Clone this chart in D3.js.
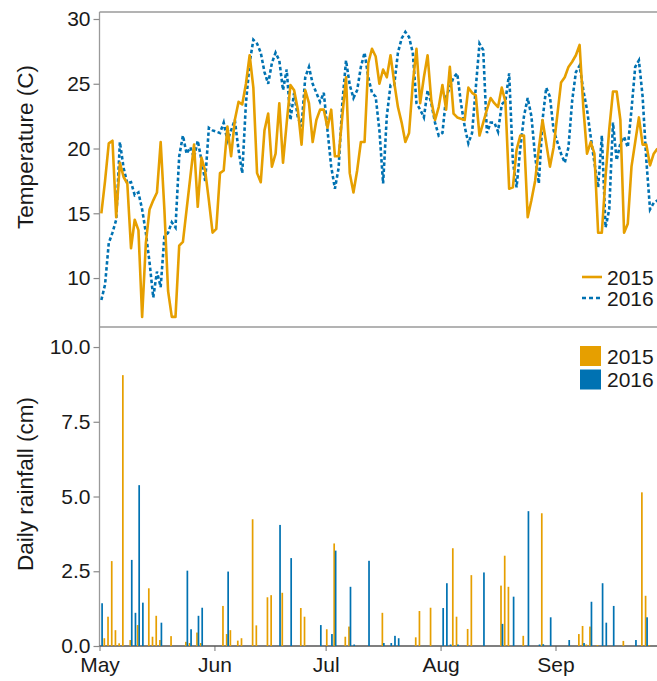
<!DOCTYPE html>
<html><head><meta charset="utf-8">
<script src="https://cdn.jsdelivr.net/npm/d3@7"></script>
<style>body{margin:0;background:#fff}svg{display:block}text{font-family:"Liberation Sans",Arial,Helvetica,sans-serif}</style>
</head><body><svg id="c" width="657" height="681"></svg>
<script>
// Daily mean temperature (C), one value per day starting May 1
const temp2015 = [15.0,17.5,20.4,20.6,14.7,18.9,17.8,17.3,12.3,14.5,13.7,7.0,12.7,15.3,16.0,16.6,20.5,15.3,9.0,7.0,
7.0,12.5,12.8,15.3,17.8,20.3,15.5,19.3,18.3,16.0,13.5,13.8,18.1,18.3,21.7,19.4,22.2,23.6,23.4,25.0,
27.2,24.7,18.1,17.4,21.4,22.7,18.6,19.6,23.5,18.9,22.0,24.9,24.5,23.0,20.3,24.5,23.5,20.5,22.2,23.0,
23.0,21.6,23.0,19.4,19.4,22.5,25.5,18.1,16.6,18.3,20.5,20.5,26.6,27.7,27.1,25.0,26.1,25.5,27.2,25.1,
23.2,22.0,20.5,21.2,25.0,27.7,23.5,25.5,27.2,23.7,22.2,23.2,24.9,23.0,26.3,22.7,22.4,22.3,22.2,24.7,
24.3,24.1,21.0,22.0,23.0,23.9,23.5,23.2,24.7,23.6,16.9,17.0,19.9,21.0,21.0,14.7,16.0,17.5,20.0,22.2,
20.4,18.6,20.1,22.6,25.1,25.5,26.3,26.7,27.2,28.0,23.2,19.6,20.5,19.6,13.5,13.5,17.8,21.5,24.4,24.4,
22.2,13.5,14.2,18.6,20.5,22.4,20.3,20.3,18.7,19.6,20.0];
const temp2016 = [8.3,9.5,12.7,13.5,14.5,20.5,18.5,17.3,17.4,16.4,16.6,15.3,13.5,11.2,8.5,10.5,9.3,13.2,13.5,14.3,
13.9,19.4,21.0,19.6,20.1,19.3,20.6,19.1,17.5,21.6,21.4,21.3,21.2,22.0,20.6,21.4,22.2,19.9,18.1,23.5,
26.6,28.4,28.1,27.4,25.9,25.0,26.6,27.4,26.8,24.5,26.1,22.2,24.3,22.4,21.7,25.5,26.3,25.0,24.3,23.6,
24.3,21.4,18.6,16.9,18.5,23.5,26.8,24.9,23.9,24.5,26.3,27.4,25.5,24.3,24.0,21.4,17.3,22.5,24.9,24.9,
27.4,28.5,29.0,28.6,27.4,23.5,23.0,22.4,24.5,23.5,22.0,21.0,21.2,24.0,24.7,25.5,25.8,23.5,21.7,20.4,
21.2,24.7,28.1,27.6,21.2,22.0,22.0,21.3,23.4,23.7,25.8,19.0,17.0,20.0,22.5,23.9,22.5,19.4,17.3,22.2,
24.7,24.0,21.4,20.5,19.6,18.9,20.1,23.7,25.9,26.4,24.5,23.0,20.9,18.9,17.0,21.0,13.9,15.3,22.0,19.1,
20.4,20.9,20.1,23.0,26.3,26.8,24.0,19.1,15.3,15.8,16.0];

// Daily rainfall (cm): day index (0 = May 1) and amount
const rainDays2015 = [1,2,3,4,5,6,8,10,13,14,15,16,19,23,24,26,27,33,34,35,37,38,41,42,45,46,49,54,55,61,63,66,67,76,85,86,89,95,96,99,100,108,109,110,114,119,129,130,131,132,134,141,146,147,148];
const rain2015     = [0.26,0.98,2.84,0.53,0.09,9.06,0.2,0.7,1.93,0.31,1.01,0.2,0.33,0.14,0.1,0.45,0.1,1.34,0.4,0.53,0.18,0.26,4.24,0.69,1.63,1.7,1.78,1.27,0.98,0.56,3.43,0.31,0.65,1.11,0.29,1.17,1.28,3.27,0.98,0.57,2.37,2.02,3.02,1.98,0.34,4.44,0.4,0.67,0.05,0.65,0.03,0.17,5.14,1.68,0.03];
const rainDays2016 = [0,8,9,10,11,16,23,24,26,27,34,48,51,59,62,63,67,68,72,76,78,79,80,92,93,94,96,103,108,111,115,118,119,121,126,130,132,135,136,138,144,147];
const rain2016     = [1.43,2.88,1.11,5.38,1.45,0.78,2.52,0.56,1.01,1.28,2.49,4.05,2.94,0.7,0.4,3.19,1.98,0.05,2.85,0.1,0.1,0.34,0.26,1.27,2.1,0.05,0.05,2.46,0.74,1.65,4.51,0.05,0.06,0.96,0.2,0.1,1.48,2.1,0.78,1.34,0.2,0.96];

const tempTicks = [10,15,20,25,30];
const rainTicks = [0,2.5,5,7.5,10];
const seriesNames = ["2015","2016"];
const colors = ["#E69F00","#0072B2"];

const L = 99.5, R = 657, T1 = 12, B1 = 327, B2 = 646;
const FS = 21;
const svg = d3.select("#c");
const start = new Date(Date.UTC(2015,4,1));
const day = d => d3.utcDay.offset(start, d);
const x = d3.scaleUtc().domain([start, new Date(Date.UTC(2015,8,1))]).range([99.5,555.5]);
const dayW = x(day(1)) - x(day(0));
const yT = d3.scaleLinear().domain([6.22,30.54]).range([B1,T1]);
const yR = d3.scaleLinear().domain([0,10.67]).range([B2,B1]);

svg.append("defs").append("clipPath").attr("id","clip")
  .append("rect").attr("x",L).attr("y",T1).attr("width",R-L+5).attr("height",B2-T1);

// frame
const frame = svg.append("g").attr("stroke","#9a9a9a").attr("stroke-width",1.3);
frame.append("line").attr("x1",L).attr("x2",R).attr("y1",T1).attr("y2",T1);
frame.append("line").attr("x1",L).attr("x2",R).attr("y1",B1).attr("y2",B1);
frame.append("line").attr("x1",L).attr("x2",L).attr("y1",T1).attr("y2",B2);

function styleAxis(g){
  g.select(".domain").remove();
  g.selectAll(".tick line").attr("stroke","#8a8a8a").attr("stroke-width",1.2);
  g.selectAll(".tick text").attr("fill","#1a1a1a").attr("font-size",FS).attr("font-family",'"Liberation Sans",Arial,sans-serif');
}
svg.append("g").attr("transform",`translate(${L},0)`)
  .call(d3.axisLeft(yT).tickValues(tempTicks).tickSize(6).tickPadding(3)).call(styleAxis);
svg.append("g").attr("transform",`translate(${L},0)`)
  .call(d3.axisLeft(yR).tickValues(rainTicks).tickFormat(d3.format(".1f")).tickSize(6).tickPadding(3)).call(styleAxis);
const xa = svg.append("g").attr("transform",`translate(0,${B2})`)
  .call(d3.axisBottom(x).ticks(d3.utcMonth.every(1)).tickFormat(d3.utcFormat("%b")).tickSize(5).tickPadding(6));
styleAxis(xa);
svg.append("line").attr("x1",L).attr("x2",R).attr("y1",B2).attr("y2",B2).attr("stroke","#555").attr("stroke-width",1.3);

// axis titles
svg.append("text").attr("transform","translate(25,147) rotate(-90)").attr("text-anchor","middle")
  .attr("dy","0.35em").attr("font-size",22.5).attr("fill","#1a1a1a").text("Temperature (C)");
svg.append("text").attr("transform","translate(25,484) rotate(-90)").attr("text-anchor","middle")
  .attr("dy","0.35em").attr("font-size",22.5).attr("fill","#1a1a1a").text("Daily rainfall (cm)");

const plot = svg.append("g").attr("clip-path","url(#clip)");

// rainfall bars
const bw = 1.7;
const rainSets = [[rainDays2015, rain2015, 0.3], [rainDays2016, rain2016, 0.7]];
rainSets.forEach(([days, vals, off], k) => {
  plot.append("g").attr("fill", colors[k]).selectAll("rect")
    .data(days.map((d,i)=>({d, v: vals[i]})))
    .join("rect")
    .attr("x", p => x(day(p.d)) + off*dayW - bw/2)
    .attr("width", bw)
    .attr("y", p => yR(p.v))
    .attr("height", p => B2 - yR(p.v));
});

// temperature lines
const line = d3.line().x((v,i)=>x(day(i)) + dayW/2).y(v=>yT(v));
plot.append("path").datum(temp2016).attr("d",line).attr("fill","none")
  .attr("stroke",colors[1]).attr("stroke-width",2.6).attr("stroke-dasharray","3.5,2.5");
plot.append("path").datum(temp2015).attr("d",line).attr("fill","none")
  .attr("stroke",colors[0]).attr("stroke-width",2.6).attr("stroke-linejoin","round");

// legends
const lg1 = svg.append("g");
seriesNames.forEach((n,k)=>{
  const yy = 277 + k*21;
  lg1.append("line").attr("x1",582).attr("x2",602).attr("y1",yy).attr("y2",yy)
    .attr("stroke",colors[k]).attr("stroke-width",2.6).attr("stroke-dasharray", k ? "4,3" : null);
  lg1.append("text").attr("x",607).attr("y",yy).attr("dy","0.36em").attr("font-size",FS).attr("fill","#1a1a1a").text(n);
});
const lg2 = svg.append("g");
seriesNames.forEach((n,k)=>{
  const yy = 346 + k*23.5;
  lg2.append("rect").attr("x",580).attr("y",yy).attr("width",21).attr("height",20).attr("fill",colors[k]);
  lg2.append("text").attr("x",607).attr("y",yy+10).attr("dy","0.36em").attr("font-size",FS).attr("fill","#1a1a1a").text(n);
});
</script></body></html>
